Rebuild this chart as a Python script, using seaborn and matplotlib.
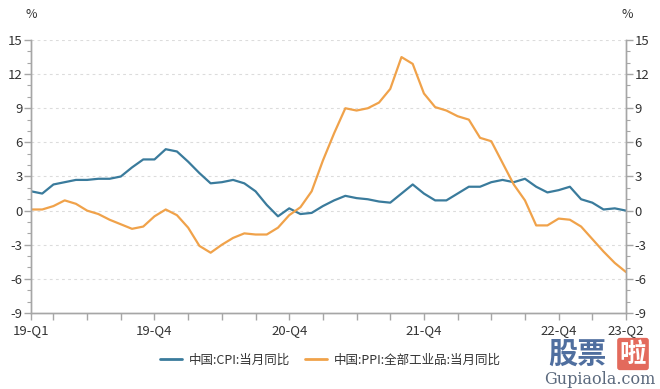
import matplotlib
matplotlib.use("Agg")
import matplotlib.pyplot as plt
import seaborn as sns
import pandas as pd
import numpy as np
from matplotlib.ticker import MultipleLocator
from matplotlib.lines import Line2D

sns.set_theme(style="white")
plt.rcParams['font.family'] = ['Noto Sans CJK SC', 'DejaVu Sans']
plt.rcParams['axes.unicode_minus'] = False

months = pd.date_range("2019-01-01", "2023-06-01", freq="MS").strftime("%Y-%m").tolist()
cpi = [1.7, 1.5, 2.3, 2.5, 2.7, 2.7, 2.8, 2.8, 3.0, 3.8, 4.5, 4.5,
       5.4, 5.2, 4.3, 3.3, 2.4, 2.5, 2.7, 2.4, 1.7, 0.5, -0.5, 0.2,
       -0.3, -0.2, 0.4, 0.9, 1.3, 1.1, 1.0, 0.8, 0.7, 1.5, 2.3, 1.5,
       0.9, 0.9, 1.5, 2.1, 2.1, 2.5, 2.7, 2.5, 2.8, 2.1, 1.6, 1.8,
       2.1, 1.0, 0.7, 0.1, 0.2, 0.0]
ppi = [0.1, 0.1, 0.4, 0.9, 0.6, 0.0, -0.3, -0.8, -1.2, -1.6, -1.4, -0.5,
       0.1, -0.4, -1.5, -3.1, -3.7, -3.0, -2.4, -2.0, -2.1, -2.1, -1.5, -0.4,
       0.3, 1.7, 4.4, 6.8, 9.0, 8.8, 9.0, 9.5, 10.7, 13.5, 12.9, 10.3,
       9.1, 8.8, 8.3, 8.0, 6.4, 6.1, 4.2, 2.3, 0.9, -1.3, -1.3, -0.7,
       -0.8, -1.4, -2.5, -3.6, -4.6, -5.4]
series_names = ["中国:CPI:当月同比", "中国:PPI:全部工业品:当月同比"]
tick_labels = ["19-Q1", "19-Q4", "20-Q4", "21-Q4", "22-Q4", "23-Q2"]
tick_months = ["2019-01", "2019-12", "2020-12", "2021-12", "2022-12", "2023-06"]

idx = list(range(len(months)))
df = pd.DataFrame({
    "x": idx * 2,
    "value": cpi + ppi,
    "series": [series_names[0]] * len(cpi) + [series_names[1]] * len(ppi),
})

colors = {series_names[0]: "#3a7b9c", series_names[1]: "#f0a24a"}

fig = plt.figure(figsize=(6.6, 3.89), dpi=100)
ax = fig.add_axes([31/660, 1-313/389, (626-31)/660, (313-40)/389])

sns.lineplot(data=df, x="x", y="value", hue="series", palette=colors,
             linewidth=1.6, ax=ax, legend=False)

ax.set_xlim(0, len(months) - 1)
ax.set_ylim(-9, 15)
ax.set_xlabel("")
ax.set_ylabel("")

major_pos = [months.index(m) for m in tick_months]
quarter_pos = [i for i, m in enumerate(months) if m[5:] in ("03", "06", "09", "12")]
all_ticks = sorted(set(quarter_pos) | set(major_pos))
ax.set_xticks(all_ticks)
ax.set_xticklabels([tick_labels[major_pos.index(p)] if p in major_pos else "" for p in all_ticks])

yt = np.arange(-9, 16, 3)
ax.set_yticks(yt)
ax.set_yticklabels([str(v) for v in yt])
ax.yaxis.set_minor_locator(MultipleLocator(1))

axr = ax.twinx()
axr.set_ylim(-9, 15)
axr.set_yticks(yt)
axr.set_yticklabels([str(v) for v in yt])
axr.yaxis.set_minor_locator(MultipleLocator(1))

spine_c = "#a6a6a6"
for a in (ax, axr):
    a.spines["top"].set_visible(False)
    for s in ("left", "right", "bottom"):
        a.spines[s].set_color(spine_c)
        a.spines[s].set_linewidth(1.0)

ax.tick_params(axis="y", which="major", direction="out", length=5, width=1, color=spine_c,
               labelsize=9.5, labelcolor="#333333", pad=1, left=True)
ax.tick_params(axis="y", which="minor", direction="out", length=3, width=0.8, color=spine_c, left=True)
ax.tick_params(axis="x", which="major", direction="out", length=5, width=1, color=spine_c,
               labelsize=9.5, labelcolor="#333333", pad=3, bottom=True)
axr.tick_params(axis="y", which="major", direction="out", length=5, width=1, color=spine_c,
                labelsize=9.5, labelcolor="#333333", pad=1, right=True)
axr.tick_params(axis="y", which="minor", direction="out", length=3, width=0.8, color=spine_c, right=True)

for v in yt[1:]:
    ax.axhline(v, color="#dcdcdc", linestyle=(0, (2.5, 3)), linewidth=0.8, zorder=0)

fig.text(31/660, 1-15/389, "%", ha="center", va="center", fontsize=9, color="#333333")
fig.text(627/660, 1-15/389, "%", ha="center", va="center", fontsize=9, color="#333333")

handles = [Line2D([0], [0], color=colors[n], lw=2) for n in series_names]
fig.legend(handles, series_names, loc="center", bbox_to_anchor=(0.5, 1-360/389),
           ncol=2, frameon=False, fontsize=9, handlelength=1.8, columnspacing=1.2,
           handletextpad=0.5, labelcolor="#333333")

# watermark
fig.text(577/660, 1-354/389, "股票", ha="center", va="center", fontsize=21,
         fontweight="bold", color="#3d5f95", alpha=0.9)
fig.text(633/660, 1-354/389, "啦", ha="center", va="center", fontsize=19,
         fontweight="bold", color="white",
         bbox=dict(boxstyle="round,pad=0.1", fc="#e05a4a", ec="none", alpha=0.9))
fig.text(600/660, 1-379/389, "Gupiaola.com", ha="center", va="center", fontsize=11.5,
         family="DejaVu Serif", color="#4a5a70", alpha=0.9)

fig.savefig("out.png", dpi=100)
